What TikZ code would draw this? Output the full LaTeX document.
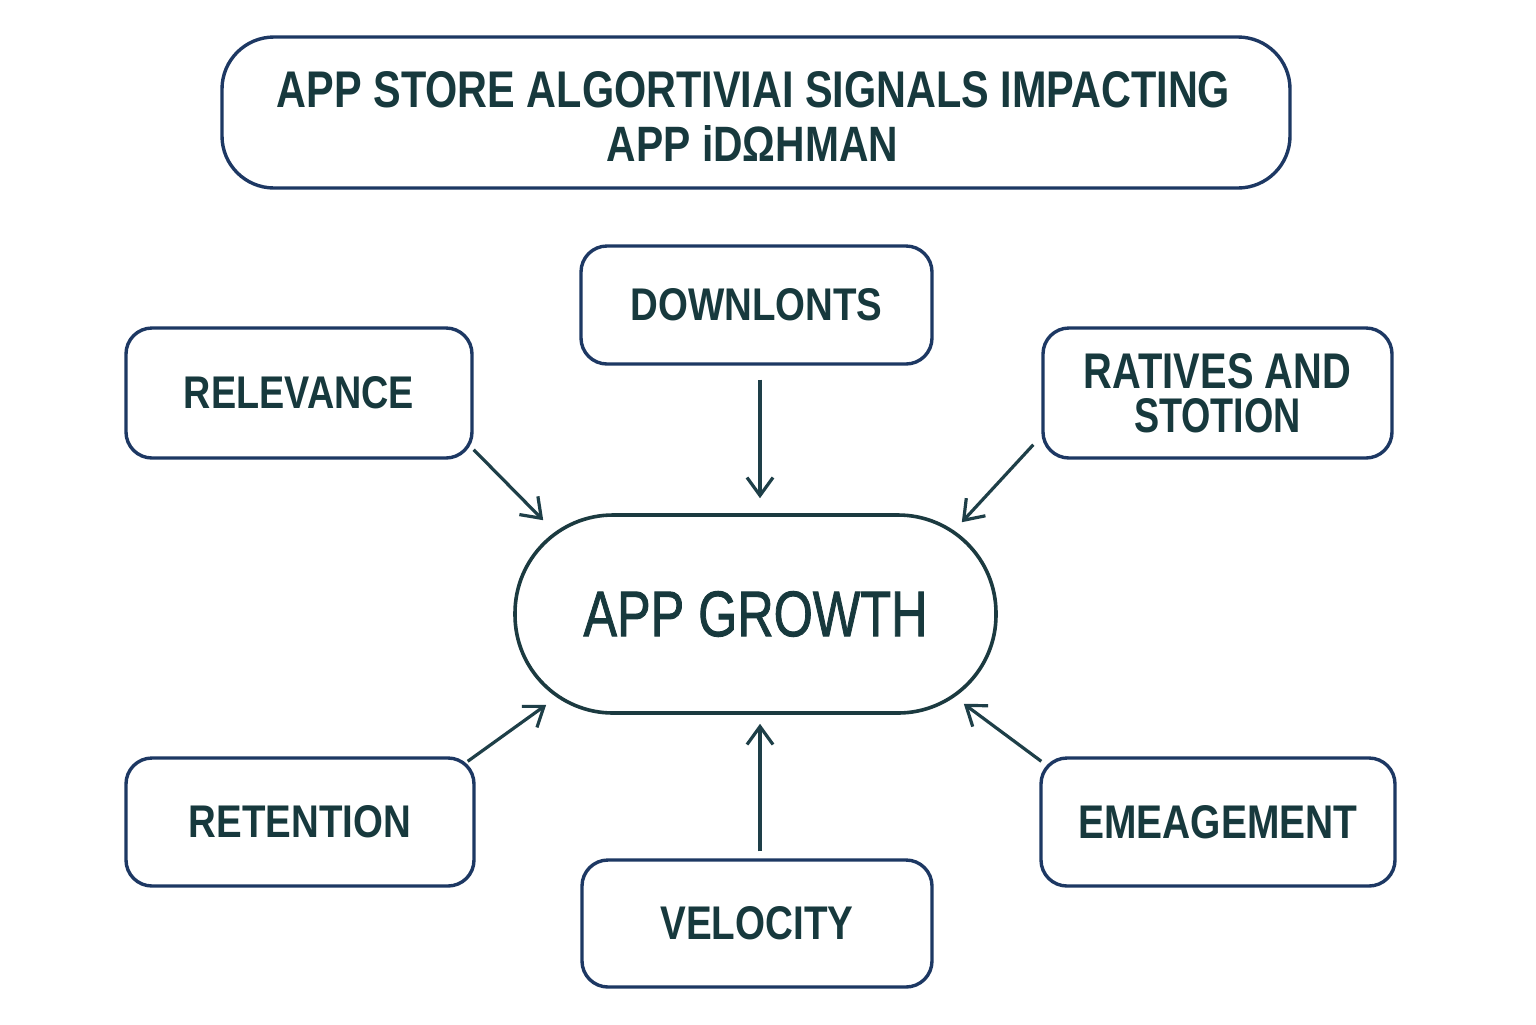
\documentclass[tikz,border=0pt]{standalone}
\usepackage{fontspec}
\setmainfont{Liberation Sans}
\usetikzlibrary{arrows.meta}
\definecolor{txt}{HTML}{17393D}
\definecolor{bord}{HTML}{1D3863}
\definecolor{gbord}{HTML}{1B3A40}
\definecolor{arrc}{HTML}{1E3F48}
\newlength\unitpx
\setlength\unitpx{0.5pt}
\newcommand{\fitlbl}[3]{\resizebox{#1\unitpx}{#2\unitpx}{\bfseries #3}}
\begin{document}
\begin{tikzpicture}[x=0.5pt,y=-0.5pt,
  box/.style={draw=bord, line width=1.7pt, rounded corners=13pt, inner sep=0pt, text=txt},
  txtn/.style={inner sep=0pt, text=txt},
  arr/.style={draw=arrc, line width=1.6pt, -{Straight Barb[length=9pt,width=13pt,line width=1.6pt]}}]
\useasboundingbox[fill=white] (0,0) rectangle (1536,1024);
% title
\node[box, rounded corners=26pt, minimum width=534pt, minimum height=75.5pt] (title) at (756,112.5) {};
\node[txtn] (t1) at (753.5,90) {\fitlbl{953}{36}{APP STORE ALGORTIVIAI SIGNALS IMPACTING}};
\node[txtn] (t2) at (752.5,143) {\fitlbl{291}{36}{APP iDΩHMAN}};
% boxes
\node[box, minimum width=175.5pt, minimum height=59pt] (dl) at (756.5,305) {\fitlbl{252}{32}{DOWNLONTS}};
\node[box, minimum width=173pt, minimum height=65pt] (rel) at (299,393) {\fitlbl{230}{32}{RELEVANCE}};
\node[box, minimum width=174.5pt, minimum height=65pt, align=center, font=\fontsize{10}{22.25}\selectfont] (rat) at (1217.5,393) {\fitlbl{267}{35}{RATIVES AND}\\\fitlbl{167}{34}{STOTION}};
\node[draw=gbord, line width=1.8pt, rounded corners=49pt, inner sep=0pt, text=txt, minimum width=240.5pt, minimum height=99pt] (growth) at (755.5,614) {\resizebox{344\unitpx}{45\unitpx}{\addfontfeatures{FakeBold=1.5}APP GROWTH}};
\node[box, minimum width=174pt, minimum height=64pt] (ret) at (300,822) {\fitlbl{222}{32}{RETENTION}};
\node[box, minimum width=177pt, minimum height=64pt] (eng) at (1218,822) {\fitlbl{279}{33}{EMEAGEMENT}};
\node[box, minimum width=175pt, minimum height=63.5pt] (vel) at (757,923.5) {\fitlbl{193}{33}{VELOCITY}};
% arrows
\draw[arr] ([shift={(3.5,14)}]dl.south) -- ([shift={(4.5,-15)}]growth.north);
\draw[arr] ([shift={(0,-10)}]rel.south east) -- ([shift={(30,7)}]growth.north west);
\draw[arr] ([shift={(-8,-15)}]rat.south west) -- ([shift={(-36,9)}]growth.north east);
\draw[arr] ([shift={(-8,5)}]ret.north east) -- ([shift={(33,-10)}]growth.south west);
\draw[arr] ([shift={(2,5)}]eng.north west) -- ([shift={(-34,-11)}]growth.south east);
\draw[arr] ([shift={(3,-7)}]vel.north) -- ([shift={(4.5,9)}]growth.south);
\end{tikzpicture}
\end{document}
